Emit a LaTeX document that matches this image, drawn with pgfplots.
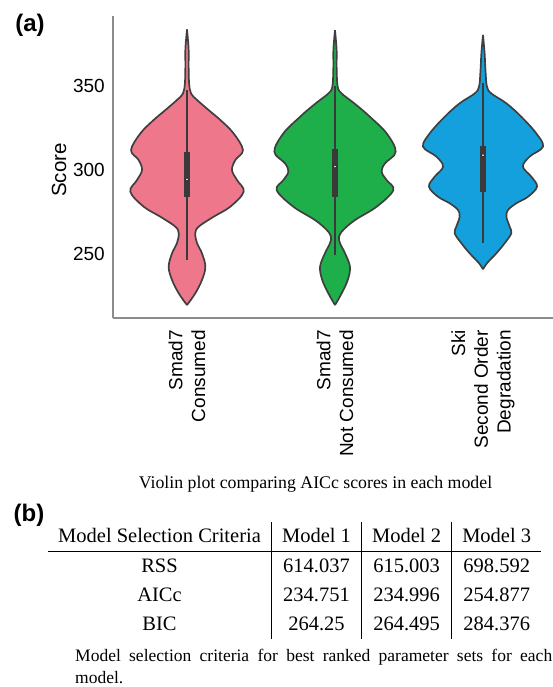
\documentclass[border=0pt]{standalone}
\usepackage{fontspec}
\setmainfont{Liberation Serif}
\newfontfamily\arial{Liberation Sans}
\usepackage{pgfplots}
\usepackage{pgfplotstable}
\pgfplotsset{compat=1.18}
\usepgfplotslibrary{fillbetween}

\definecolor{pinkc}{HTML}{EF778B}
\definecolor{greenc}{HTML}{1EAF4B}
\definecolor{bluec}{HTML}{14A0DC}
\definecolor{edgec}{HTML}{3F3F3F}
\definecolor{boxc}{HTML}{3A3A3A}
\definecolor{spinec}{HTML}{8C8C8C}

% Violin half-widths (category units) against score
\pgfplotstableread{
s     w
219.6 0
226.6 0.056
234.5 0.101
242.4 0.124
250.4 0.101
256.4 0.068
262.3 0.056
266.3 0.079
272.2 0.180
278.2 0.293
287.1 0.383
294.0 0.338
300.0 0.304
306.0 0.327
311.9 0.378
321.8 0.315
329.8 0.225
335.7 0.146
341.7 0.068
345.6 0.027
352.0 0.014
362.0 0.011
372.0 0.011
383.7 0
}\violinA

\pgfplotstableread{
s     w
219.6 0
226.6 0.045
234.5 0.086
242.4 0.101
250.4 0.068
256.4 0.034
260.3 0.027
264.3 0.056
270.2 0.135
278.2 0.282
288.0 0.394
294.0 0.349
299.0 0.315
304.0 0.338
310.9 0.410
321.8 0.349
331.7 0.236
337.7 0.158
341.7 0.101
345.6 0.045
349.6 0.018
361.5 0.011
371.4 0.011
383.3 0
}\violinB

\pgfplotstableread{
s     w
240.9 0
244.5 0.027
250.4 0.090
256.4 0.146
262.3 0.191
266.3 0.180
272.2 0.158
276.2 0.169
280.2 0.225
284.1 0.304
290.1 0.365
296.0 0.327
302.0 0.270
308.0 0.315
313.9 0.405
321.8 0.360
331.7 0.259
339.7 0.158
345.6 0.056
349.6 0.027
357.5 0.018
369.4 0.011
380.4 0
}\violinC

\begin{document}
\begin{tikzpicture}
\begin{axis}[
  at={(113pt,-318pt)}, anchor=south west,
  scale only axis, width=440pt, height=302pt,
  xmin=-0.5, xmax=2.473, ymin=211.9, ymax=391.7,
  clip=false,
  axis x line*=bottom, axis y line*=left,
  axis line style={draw=spinec, line width=1.1pt},
  xtick={0,1,2},
  xticklabels={{Smad7\\Consumed},{Smad7\\Not Consumed},{Ski\\Second Order\\Degradation}},
  ytick={250,300,350},
  major tick length=0pt,
  tick style={draw=none},
  /pgf/number format/assume math mode=true,
  xticklabel shift=12pt,
  xticklabel style={rotate=90, anchor=east, align=right, inner sep=0pt,
    font=\arial\fontsize{19}{22.7}\selectfont},
  yticklabel style={inner xsep=0pt, xshift=-8pt, font=\arial\fontsize{19}{22}\selectfont},
  ylabel={Score},
  ylabel style={at={(axis description cs:-0.1227,0.49)}, anchor=center,
    font=\arial\fontsize{20.5}{24}\selectfont},
  violin edge/.style={draw=edgec, line width=1.7pt, smooth, tension=0.6},
]
% Smad7 Consumed
\addplot[draw=none, name path=aR, smooth, tension=0.6] table[x expr=\thisrow{w}, y=s] {\violinA};
\addplot[draw=none, name path=aL, smooth, tension=0.6] table[x expr=-\thisrow{w}, y=s] {\violinA};
\addplot[fill=pinkc, draw=none] fill between[of=aR and aL];
\addplot[violin edge] table[x expr=\thisrow{w}, y=s] {\violinA};
\addplot[violin edge] table[x expr=-\thisrow{w}, y=s] {\violinA};
% Smad7 Not Consumed
\addplot[draw=none, name path=bR, smooth, tension=0.6] table[x expr=1+\thisrow{w}, y=s] {\violinB};
\addplot[draw=none, name path=bL, smooth, tension=0.6] table[x expr=1-\thisrow{w}, y=s] {\violinB};
\addplot[fill=greenc, draw=none] fill between[of=bR and bL];
\addplot[violin edge] table[x expr=1+\thisrow{w}, y=s] {\violinB};
\addplot[violin edge] table[x expr=1-\thisrow{w}, y=s] {\violinB};
% Ski Second Order Degradation
\addplot[draw=none, name path=cR, smooth, tension=0.6] table[x expr=2+\thisrow{w}, y=s] {\violinC};
\addplot[draw=none, name path=cL, smooth, tension=0.6] table[x expr=2-\thisrow{w}, y=s] {\violinC};
\addplot[fill=bluec, draw=none] fill between[of=cR and cL];
\addplot[violin edge] table[x expr=2+\thisrow{w}, y=s] {\violinC};
\addplot[violin edge] table[x expr=2-\thisrow{w}, y=s] {\violinC};

% inner boxes: whiskers, interquartile range, median
\addplot[boxc, line width=1.6pt] coordinates {(0,246.4) (0,347.6)};
\addplot[boxc, line width=5.5pt] coordinates {(0,284.1) (0,310.9)};
\addplot[only marks, mark=*, mark size=1.5pt, mark options={fill=white, draw=none}] coordinates {(0,294.4)};
\addplot[boxc, line width=1.6pt] coordinates {(1,249.4) (1,350.0)};
\addplot[boxc, line width=5.5pt] coordinates {(1,284.1) (1,312.5)};
\addplot[only marks, mark=*, mark size=1.5pt, mark options={fill=white, draw=none}] coordinates {(1,302.0)};
\addplot[boxc, line width=1.6pt] coordinates {(2,256.4) (2,351.6)};
\addplot[boxc, line width=5.5pt] coordinates {(2,287.0) (2,314.5)};
\addplot[only marks, mark=*, mark size=1.5pt, mark options={fill=white, draw=none}] coordinates {(2,308.9)};
\end{axis}

% panel letters
\node[font=\arial\bfseries\fontsize{24}{28}\selectfont, inner sep=0] at (30pt,-25pt) {(a)};
\node[font=\arial\bfseries\fontsize{24}{28}\selectfont, inner sep=0] at (29pt,-515pt) {(b)};

% caption of panel (a)
\node[anchor=base, inner sep=0, font=\fontsize{17.8}{21}\selectfont] at (315.5pt,-488pt)
  {Violin plot comparing AICc scores in each model};

% table of panel (b)
\node[anchor=north west, inner sep=0, font=\fontsize{20.5}{29}\selectfont] at (48pt,-521.5pt) {%
  \setlength{\tabcolsep}{10pt}\setlength{\arrayrulewidth}{1.2pt}%
  \begin{tabular}{c|c|c|c}
  Model Selection Criteria & Model 1 & Model 2 & Model 3\\ \hline
  RSS  & 614.037 & 615.003 & 698.592\\
  AICc & 234.751 & 234.996 & 254.877\\
  BIC  & 264.25  & 264.495 & 284.376
  \end{tabular}};

% caption of panel (b)
\node[anchor=base west, inner sep=0, font=\fontsize{17.5}{21}\selectfont] at (75pt,-661pt)
  {\makebox[477pt][s]{Model selection criteria for best ranked parameter sets for each}};
\node[anchor=base west, inner sep=0, font=\fontsize{17.5}{21}\selectfont] at (75pt,-683pt)
  {model.};

\pgfresetboundingbox
\path[use as bounding box] (0pt,0pt) rectangle (553pt,-687pt);
\end{tikzpicture}
\end{document}
